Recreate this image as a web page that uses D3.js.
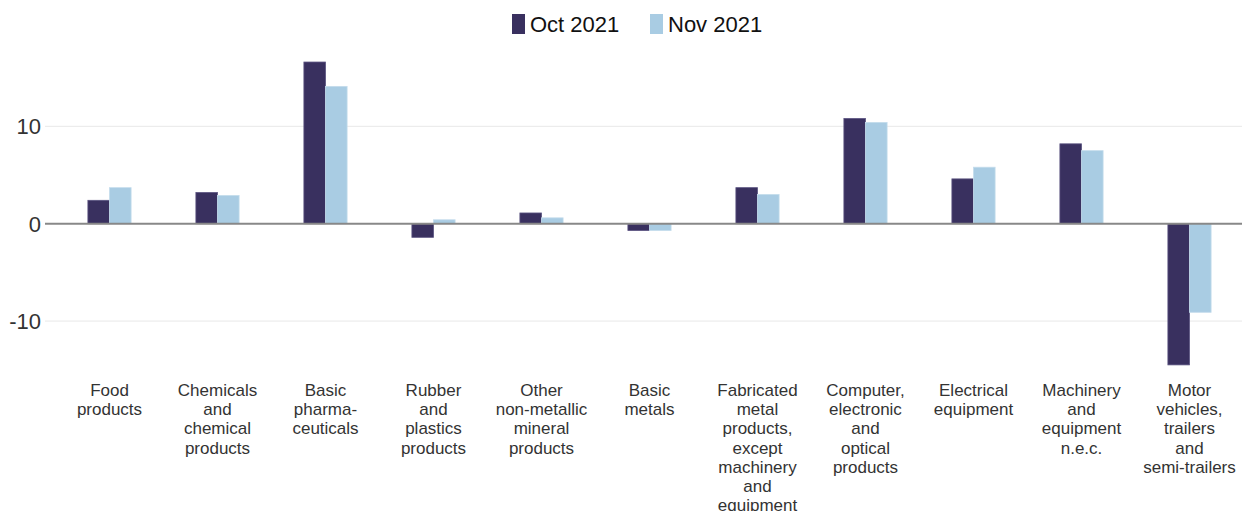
<!DOCTYPE html>
<html>
<head>
<meta charset="utf-8">
<script src="https://cdn.jsdelivr.net/npm/d3@7"></script>
<style>
  body { margin: 0; background: #fff; }
  svg { display: block; font-family: "Liberation Sans", Arial, sans-serif; }
</style>
</head>
<body>
<svg id="chart"></svg>
<script>
const width = 1242;
const height = 511;

// categories (line breaks as "|")
const categories = [
    "Food|products",
    "Chemicals|and|chemical|products",
    "Basic|pharma-|ceuticals",
    "Rubber|and|plastics|products",
    "Other|non-metallic|mineral|products",
    "Basic|metals",
    "Fabricated|metal|products,|except|machinery|and|equipment",
    "Computer,|electronic|and|optical|products",
    "Electrical|equipment",
    "Machinery|and|equipment|n.e.c.",
    "Motor|vehicles,|trailers|and|semi-trailers"
];
const seriesNames = ["Oct 2021", "Nov 2021"];
const oct2021 = [2.4, 3.2, 16.6, -1.4, 1.1, -0.7, 3.7, 10.8, 4.6, 8.2, -14.5];
const nov2021 = [3.7, 2.9, 14.1, 0.4, 0.6, -0.7, 3.0, 10.4, 5.8, 7.5, -9.1];
const yTicks = [-10, 0, 10];
const colors = ["#39305f", "#a9cce3"];

const svg = d3.select("#chart")
    .attr("width", width)
    .attr("height", height);

// x: bands per category, inner band per series
const x = d3.scaleBand()
    .domain(d3.range(categories.length))
    .range([55.5, 1243.5])
    .paddingInner(0)
    .paddingOuter(0);

const xInner = d3.scaleBand()
    .domain(seriesNames)
    .range([x.bandwidth() * 0.3, x.bandwidth() * 0.7]);

// y: 10 units ~ 97.4 px, zero near y=224
const y = d3.scaleLinear()
    .domain([-16, 18])
    .range([379.5, 48.4]);

// gridlines
svg.append("g")
    .selectAll("line")
    .data(yTicks.filter(d => d !== 0))
    .join("line")
    .attr("x1", 45)
    .attr("x2", width)
    .attr("y1", d => y(d))
    .attr("y2", d => y(d))
    .attr("stroke", "#e8e8e8")
    .attr("stroke-width", 1);

// y tick labels
svg.append("g")
    .selectAll("text")
    .data(yTicks)
    .join("text")
    .attr("x", 41)
    .attr("y", d => y(d))
    .attr("dy", "0.36em")
    .attr("text-anchor", "end")
    .attr("font-size", "22px")
    .attr("fill", "#333")
    .text(d => d);

// bars
const rows = categories.map((c, i) => ({ i, values: [oct2021[i], nov2021[i]] }));

const groups = svg.append("g")
    .selectAll("g")
    .data(rows)
    .join("g")
    .attr("transform", d => `translate(${x(d.i)},0)`);

groups.selectAll("rect")
    .data(d => d.values.map((v, k) => ({ key: seriesNames[k], k, v })))
    .join("rect")
    .attr("x", d => xInner(d.key))
    .attr("width", xInner.bandwidth())
    .attr("y", d => y(Math.max(0, d.v)))
    .attr("height", d => Math.abs(y(d.v) - y(0)))
    .attr("fill", d => colors[d.k])
    .attr("stroke", d => d.k === 0 ? "#5a5380" : "#c4dcec")
    .attr("stroke-width", 0.8);

// zero line
svg.append("line")
    .attr("x1", 45)
    .attr("x2", width)
    .attr("y1", y(0))
    .attr("y2", y(0))
    .attr("stroke", "#888")
    .attr("stroke-width", 2);

// category labels
const labels = svg.append("g")
    .selectAll("text")
    .data(categories)
    .join("text")
    .attr("x", (d, i) => x(i) + x.bandwidth() / 2)
    .attr("y", 396)
    .attr("text-anchor", "middle")
    .attr("font-size", "17px")
    .attr("fill", "#333");

labels.selectAll("tspan")
    .data(d => d.split("|"))
    .join("tspan")
    .attr("x", function () { return d3.select(this.parentNode).attr("x"); })
    .attr("dy", (d, j) => j === 0 ? 0 : 19.2)
    .text(d => d);

// legend
const legendX = [512, 650];
const legend = svg.append("g")
    .selectAll("g")
    .data(seriesNames)
    .join("g")
    .attr("transform", (d, i) => `translate(${legendX[i]},14)`);

legend.append("rect")
    .attr("width", 13)
    .attr("height", 20)
    .attr("fill", (d, i) => colors[i]);

legend.append("text")
    .attr("x", 18)
    .attr("y", 10)
    .attr("dy", "0.36em")
    .attr("font-size", "22px")
    .attr("fill", "#111")
    .text(d => d);
</script>
</body>
</html>
